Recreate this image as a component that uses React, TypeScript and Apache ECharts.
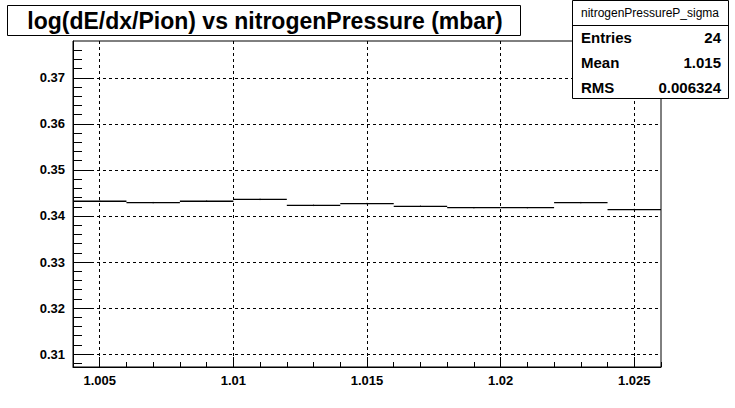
import React, { useEffect, useRef } from "react";
import * as echarts from "echarts";

const binEdges = [1.004, 1.006, 1.008, 1.01, 1.012, 1.014, 1.016, 1.018, 1.02, 1.022, 1.024, 1.026];
const binValues = [0.3432, 0.3429, 0.3432, 0.3436, 0.3423, 0.3427, 0.3421, 0.3418, 0.3418, 0.3429, 0.3414];
const binErrors = [0.00015, 0.00015, 0.00015, 0.00015, 0.00015, 0.00015, 0.00015, 0.00015, 0.00015, 0.00015, 0.00015];

const xMajorTicks = [1.005, 1.01, 1.015, 1.02, 1.025];
const xMinorTicks = [
  1.004, 1.005, 1.006, 1.007, 1.008, 1.009, 1.01, 1.011, 1.012, 1.013, 1.014, 1.015,
  1.016, 1.017, 1.018, 1.019, 1.02, 1.021, 1.022, 1.023, 1.024, 1.025, 1.026,
];
const yMajorTicks = [0.31, 0.32, 0.33, 0.34, 0.35, 0.36, 0.37];
const yMinorTicks = [
  0.308, 0.31, 0.312, 0.314, 0.316, 0.318, 0.32, 0.322, 0.324, 0.326, 0.328, 0.33,
  0.332, 0.334, 0.336, 0.338, 0.34, 0.342, 0.344, 0.346, 0.348, 0.35, 0.352, 0.354,
  0.356, 0.358, 0.36, 0.362, 0.364, 0.366, 0.368, 0.37, 0.372, 0.374, 0.376,
];

const titleText = "log(dE/dx/Pion) vs nitrogenPressure (mbar)";
const statsName = "nitrogenPressureP_sigma";
const statsLabels = ["Entries", "Mean", "RMS"];
const statsValues = ["24", "1.015", "0.006324"];

const X_MIN = 1.004;
const X_MAX = 1.026;
const Y_MIN = 0.3072;
const Y_MAX = 0.378;

const FONT = '"Liberation Sans", Arial, Helvetica, sans-serif';

export default function App() {
  const ref = useRef<HTMLDivElement>(null);

  useEffect(() => {
    if (!ref.current) return;
    const chart = echarts.init(ref.current, undefined, { renderer: "svg" });

    const histData = binValues.map((v, i) => [binEdges[i], binEdges[i + 1], v, binErrors[i]]);

    const statsRows: any[] = [];
    statsLabels.forEach((lab, i) => {
      statsRows.push({
        type: "text",
        left: 581,
        top: 30 + i * 25,
        style: { text: lab, font: `bold 15px ${FONT}`, fill: "#000" },
        z: 101,
      });
      statsRows.push({
        type: "text",
        right: 14,
        top: 30 + i * 25,
        style: { text: statsValues[i], font: `bold 15px ${FONT}`, fill: "#000", align: "right" },
        z: 101,
      });
    });

    const axisLabelStyle = { color: "#000", fontFamily: FONT, fontSize: 13, fontWeight: "bold" as const };
    const dashed = { color: "#000", width: 1, type: [3, 3] as number[] };

    chart.setOption({
      animation: false,
      backgroundColor: "#fff",
      grid: {
        left: 73,
        top: 41,
        width: 588,
        height: 326,
        show: true,
        borderColor: "#000",
        borderWidth: 1,
        backgroundColor: "transparent",
      },
      xAxis: [
        {
          type: "value",
          min: X_MIN,
          max: X_MAX,
          position: "bottom",
          axisLine: { show: true, lineStyle: { color: "#000", width: 1 } },
          axisTick: { show: true, inside: true, length: 10, customValues: xMajorTicks, lineStyle: { color: "#000" } },
          axisLabel: {
            show: true,
            customValues: xMajorTicks,
            margin: 7,
            ...axisLabelStyle,
            formatter: (v: number) => String(Number(v.toFixed(3))),
          },
          splitLine: { show: true, lineStyle: dashed },
        },
        {
          type: "value",
          min: X_MIN,
          max: X_MAX,
          position: "bottom",
          axisLine: { show: false },
          axisTick: { show: true, inside: true, length: 5, customValues: xMinorTicks, lineStyle: { color: "#000" } },
          axisLabel: { show: false },
          splitLine: { show: false },
        },
      ],
      yAxis: [
        {
          type: "value",
          min: Y_MIN,
          max: Y_MAX,
          position: "left",
          axisLine: { show: true, lineStyle: { color: "#000", width: 1 } },
          axisTick: { show: true, inside: true, length: 18, customValues: yMajorTicks, lineStyle: { color: "#000" } },
          axisLabel: {
            show: true,
            customValues: yMajorTicks,
            margin: 8,
            ...axisLabelStyle,
            formatter: (v: number) => String(Number(v.toFixed(2))),
          },
          splitLine: { show: true, lineStyle: dashed },
        },
        {
          type: "value",
          min: Y_MIN,
          max: Y_MAX,
          position: "left",
          axisLine: { show: false },
          axisTick: { show: true, inside: true, length: 9, customValues: yMinorTicks, lineStyle: { color: "#000" } },
          axisLabel: { show: false },
          splitLine: { show: false },
        },
      ],
      series: [
        {
          type: "custom",
          xAxisIndex: 0,
          yAxisIndex: 0,
          data: histData,
          encode: { x: [0, 1], y: [2] },
          renderItem: (params: any, api: any) => {
            const x0 = api.value(0);
            const x1 = api.value(1);
            const y = api.value(2);
            const e = api.value(3);
            const p0 = api.coord([x0, y]);
            const p1 = api.coord([x1, y]);
            const pc = api.coord([(x0 + x1) / 2, y]);
            const pt = api.coord([(x0 + x1) / 2, y + e]);
            const pb = api.coord([(x0 + x1) / 2, y - e]);
            return {
              type: "group",
              children: [
                {
                  type: "line",
                  shape: { x1: p0[0], y1: p0[1], x2: p1[0], y2: p1[1] },
                  style: { stroke: "#000", lineWidth: 1.3 },
                },
                {
                  type: "line",
                  shape: { x1: pc[0], y1: pt[1], x2: pc[0], y2: pb[1] },
                  style: { stroke: "#000", lineWidth: 1 },
                },
              ],
            };
          },
          z: 5,
        },
      ],
      graphic: [
        {
          type: "rect",
          shape: { x: 7.5, y: 5.5, width: 513, height: 30 },
          style: { fill: "#fff", stroke: "#000", lineWidth: 1 },
          z: 100,
        },
        {
          type: "text",
          x: 265,
          y: 21,
          style: {
            text: titleText,
            font: `bold 23px ${FONT}`,
            fill: "#000",
            align: "center",
            verticalAlign: "middle",
          },
          z: 101,
        },
        {
          type: "rect",
          shape: { x: 572.5, y: 0.5, width: 156, height: 98 },
          style: { fill: "#fff", stroke: "#000", lineWidth: 1 },
          z: 100,
        },
        {
          type: "line",
          shape: { x1: 572.5, y1: 25.5, x2: 728.5, y2: 25.5 },
          style: { stroke: "#000", lineWidth: 1 },
          z: 101,
        },
        {
          type: "text",
          x: 650,
          y: 13,
          style: {
            text: statsName,
            font: `12px ${FONT}`,
            fill: "#000",
            align: "center",
            verticalAlign: "middle",
          },
          z: 101,
        },
        ...statsRows,
      ],
    });

    return () => chart.dispose();
  }, []);

  return (
    <div
      ref={ref}
      style={{ position: "fixed", left: 0, top: 0, width: 735, height: 408, background: "#fff" }}
    />
  );
}
